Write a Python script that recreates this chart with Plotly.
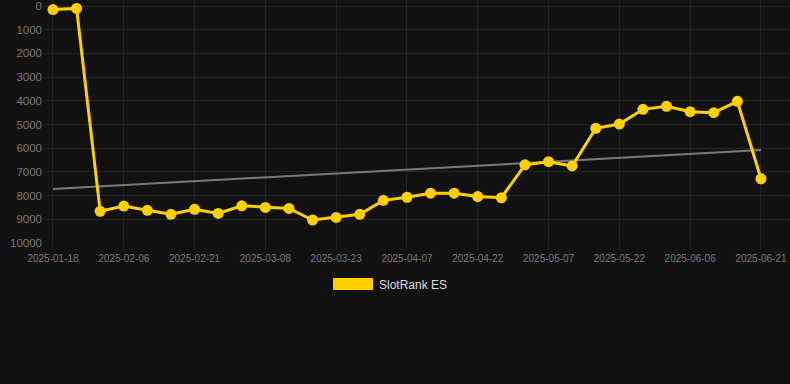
import plotly.graph_objects as go

dates = ["2025-01-18", "2025-01-27", "2025-02-01", "2025-02-06", "2025-02-11", "2025-02-16",
         "2025-02-21", "2025-02-26", "2025-03-03", "2025-03-08", "2025-03-13", "2025-03-18",
         "2025-03-23", "2025-03-28", "2025-04-02", "2025-04-07", "2025-04-12", "2025-04-17",
         "2025-04-22", "2025-04-27", "2025-05-02", "2025-05-07", "2025-05-12", "2025-05-17",
         "2025-05-22", "2025-05-27", "2025-06-01", "2025-06-06", "2025-06-11", "2025-06-16",
         "2025-06-21"]
ranks = [150, 100, 8660, 8440, 8620, 8790, 8580, 8750, 8430, 8500, 8540, 9030, 8920, 8790,
         8200, 8070, 7900, 7900, 8040, 8090, 6700, 6570, 6750, 5160, 4980, 4360, 4230, 4460,
         4500, 4020, 7290]
trend_dates = ["2025-01-18", "2025-06-21"]
trend_values = [7720, 6080]
tick_dates = dates[::3]
y_ticks = list(range(0, 10001, 1000))
y_tick_labels = [str(v) for v in y_ticks]
series_name = "SlotRank ES"

BG = "#111111"
GRID = "#232323"
YELLOW = "#FFD000"

fig = go.Figure()
fig.add_trace(go.Scatter(x=trend_dates, y=trend_values, mode="lines",
                         line=dict(color="#7a7a7a", width=2), showlegend=False,
                         hoverinfo="skip"))
fig.add_trace(go.Scatter(x=dates, y=ranks, mode="lines+markers", name=series_name,
                         line=dict(color=YELLOW, width=3),
                         marker=dict(color=YELLOW, size=11), showlegend=False))

fig.update_layout(
    width=790, height=384,
    paper_bgcolor=BG, plot_bgcolor=BG,
    margin=dict(l=44, r=0, t=0, b=141),
    font=dict(family="Liberation Sans, Arial, sans-serif", color="#7a7a7a"),
    showlegend=False,
)
fig.update_xaxes(type="category", categoryorder="array", categoryarray=dates,
                 range=[-0.38, 31.23], tickmode="array", tickvals=tick_dates,
                 ticktext=tick_dates, showgrid=True, gridcolor=GRID, gridwidth=1,
                 ticks="outside", ticklen=6, tickcolor=GRID, zeroline=False,
                 showline=False, tickfont=dict(size=10, color="#7a7a7a"))
fig.update_yaxes(range=[10000, -254], tickmode="array", tickvals=y_ticks,
                 ticktext=y_tick_labels,
                 showgrid=True, gridcolor=GRID, gridwidth=1, zeroline=False,
                 showline=False, ticks="", ticklabelstandoff=1,
                 tickfont=dict(size=11.5, color="#7a7a7a"))

# legend drawn manually
fig.add_shape(type="rect", xref="paper", yref="paper",
              x0=(333 - 44) / 746, x1=(373 - 44) / 746,
              y0=1 - (290) / 243, y1=1 - (278) / 243,
              fillcolor=YELLOW, line=dict(width=0))
fig.add_annotation(xref="paper", yref="paper", x=(377 - 44) / 746, y=1 - 284.5 / 243,
                   text=series_name, showarrow=False, xanchor="left", yanchor="middle",
                   font=dict(size=12, color="#dddddd"))

fig.write_html("out.html", config={"displayModeBar": False},
               post_script="document.body.style.margin='0';"
                           "document.body.style.background='#111111';")
